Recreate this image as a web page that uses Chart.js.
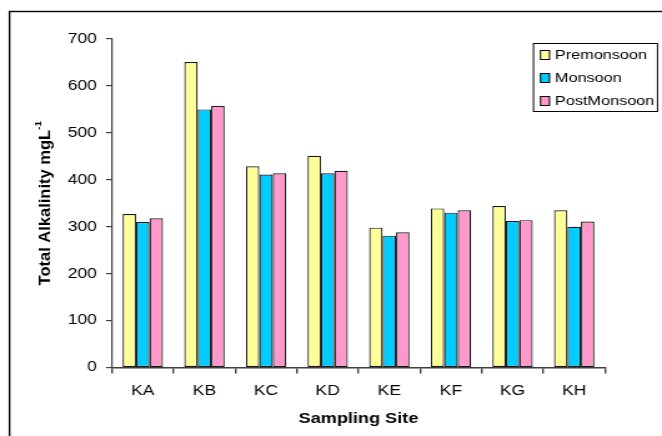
<!DOCTYPE html>
<html>
<head>
<meta charset="utf-8">
<script src="https://cdn.jsdelivr.net/npm/chart.js"></script>
<style>
  html, body { margin: 0; padding: 0; background: #fff; }
  #wrap { position: relative; width: 662px; height: 436px; overflow: hidden; }
  /* the reference text looks stretched sideways, so the canvas is drawn narrower and stretched */
  #chart { width: 662px !important; height: 436px !important; display: block; }
</style>
</head>
<body>
<div id="wrap"><canvas id="chart" width="530" height="436" style="width:662px;height:436px"></canvas></div>
<script>
// Data
const sites = ['KA', 'KB', 'KC', 'KD', 'KE', 'KF', 'KG', 'KH'];
const premonsoon = [327, 651, 429, 451, 298, 339, 344, 335];
const monsoon = [310, 550, 411, 414, 281, 330, 312, 300];
const postMonsoon = [318, 557, 414, 419, 288, 335, 314, 311];
const yTicks = [0, 100, 200, 300, 400, 500, 600, 700];

const FONT = '"Liberation Sans", Arial, sans-serif';
const SX = 662 / 530; // horizontal stretch of the canvas
const px = v => v / SX; // page x -> canvas x

// Frame round the whole chart (only top and left visible in the picture)
const framePlugin = {
    id: 'frame',
    beforeDraw(chart) {
        const ctx = chart.ctx;
        ctx.save();
        ctx.strokeStyle = '#000';
        ctx.lineWidth = 1.4;
        ctx.strokeRect(px(9.5), 11.5, 700, 500);
        ctx.restore();
    }
};

// Y axis title with a real superscript
const yTitlePlugin = {
    id: 'yTitle',
    afterDraw(chart) {
        const ctx = chart.ctx;
        const area = chart.chartArea;
        const main = 'Total Alkalinity mgL';
        const sup = '-1';
        ctx.save();
        ctx.translate(px(46), (area.top + area.bottom) / 2);
        ctx.scale(1 / SX, 1);
        ctx.rotate(-Math.PI / 2);
        ctx.fillStyle = '#000';
        ctx.textBaseline = 'middle';
        ctx.font = 'bold 16.5px ' + FONT;
        const w1 = ctx.measureText(main).width;
        ctx.font = 'bold 10px ' + FONT;
        const w2 = ctx.measureText(sup).width;
        const start = -(w1 + w2) / 2;
        ctx.font = 'bold 16.5px ' + FONT;
        ctx.textAlign = 'left';
        ctx.fillText(main, start, 0);
        ctx.font = 'bold 10px ' + FONT;
        ctx.fillText(sup, start + w1, -7);
        ctx.restore();
    }
};

// Boxed legend in the top-right corner
const legendBoxPlugin = {
    id: 'legendBox',
    afterDraw(chart) {
        const ctx = chart.ctx;
        const x = px(533.5), y = 43.5, w = px(124), h = 68;
        ctx.save();
        ctx.fillStyle = '#fff';
        ctx.fillRect(x, y, w, h);
        ctx.strokeStyle = '#000';
        ctx.lineWidth = 1;
        ctx.strokeRect(x, y, w, h);
        ctx.font = '13px ' + FONT;
        ctx.textBaseline = 'middle';
        chart.data.datasets.forEach((ds, i) => {
            const cy = 55 + i * 23;
            ctx.fillStyle = ds.backgroundColor;
            ctx.fillRect(px(540.5), cy - 4.5, px(9), 9);
            ctx.strokeStyle = '#000';
            ctx.strokeRect(px(540.5), cy - 4.5, px(9), 9);
            ctx.fillStyle = '#000';
            ctx.fillText(ds.label, px(555), cy + 0.5);
        });
        ctx.restore();
    }
};

const ctx = document.getElementById('chart').getContext('2d');
new Chart(ctx, {
    type: 'bar',
    data: {
        labels: sites,
        datasets: [
            { label: 'Premonsoon', data: premonsoon, backgroundColor: '#FFFF99' },
            { label: 'Monsoon', data: monsoon, backgroundColor: '#00CCFF' },
            { label: 'PostMonsoon', data: postMonsoon, backgroundColor: '#FF99CC' }
        ].map(d => Object.assign(d, {
            borderColor: '#1a1a1a',
            borderWidth: 1.2,
            borderSkipped: false,
            categoryPercentage: 0.655,
            barPercentage: 1
        }))
    },
    options: {
        responsive: false,
        animation: false,
        devicePixelRatio: 1,
        layout: { padding: { left: 0, top: 39, right: 530 - px(605), bottom: 0 } },
        plugins: {
            legend: { display: false },
            tooltip: { enabled: false }
        },
        scales: {
            x: {
                grid: {
                    display: true,
                    drawOnChartArea: false,
                    offset: true,
                    tickLength: 6,
                    color: '#404040',
                    lineWidth: 1.4
                },
                border: { color: '#404040', width: 1.4 },
                ticks: { color: '#000', font: { family: FONT, size: 14 }, padding: 9 },
                title: {
                    display: true,
                    text: 'Sampling Site',
                    color: '#000',
                    font: { family: FONT, size: 14.5, weight: 'bold' },
                    padding: { top: 0, bottom: 8.5 }
                },
                afterFit(scale) { scale.height = 68.5; }
            },
            y: {
                min: 0,
                max: 700,
                afterBuildTicks(scale) { scale.ticks = yTicks.map(v => ({ value: v })); },
                grid: {
                    display: true,
                    drawOnChartArea: false,
                    tickLength: px(6),
                    color: '#404040',
                    lineWidth: 1.2
                },
                border: { color: '#404040', width: 1.2 },
                ticks: { color: '#000', font: { family: FONT, size: 14 }, padding: px(9) },
                afterFit(scale) { scale.width = px(112); }
            }
        }
    },
    plugins: [framePlugin, yTitlePlugin, legendBoxPlugin]
});
</script>
</body>
</html>
